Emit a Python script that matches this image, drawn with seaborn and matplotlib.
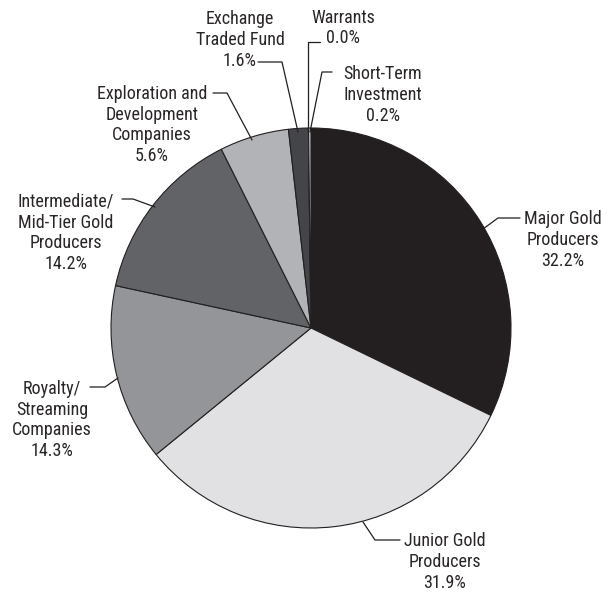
import numpy as np
import matplotlib
matplotlib.use("Agg")
import matplotlib.pyplot as plt
import seaborn as sns

# ---- data ------------------------------------------------------------
sectors = ["Major Gold\nProducers", "Junior Gold\nProducers", "Royalty/\nStreaming\nCompanies",
           "Intermediate/\nMid-Tier Gold\nProducers", "Exploration and\nDevelopment\nCompanies",
           "Exchange\nTraded Fund", "Warrants", "Short-Term\nInvestment"]
weights = [32.2, 31.9, 14.3, 14.2, 5.6, 1.6, 0.0, 0.2]
shades = ["#231f20", "#e1e1e3", "#939598", "#626366", "#b1b3b6", "#434549", "#c7c8ca", "#c7c8ca"]

# label layout in pixel coords (y down): text centre, leader polyline
W, H = 607, 594
label_pos = [(563, 240), (445, 562), (52, 420), (66, 233), (152, 125), (240, 40), (343, 28), (383, 95)]
leaders = [
    [(520, 218), (498, 218), (483, 229)],
    [(400, 540), (375, 540), (363, 522)],
    [(90, 387), (105, 387), (118, 378)],
    [(122, 199), (133, 199), (155, 207)],
    [(213, 93), (227, 93), (252, 140)],
    [(258, 62), (282, 62), (298, 132)],
    [(320, 42), (308, 42), (308, 132)],
    [(332, 72), (322, 72), (310, 132)],
]

sns.set_theme(style="white")
plt.rcParams['font.family'] = ['Roboto Condensed', 'Archivo Narrow', 'DejaVu Sans']

fig = plt.figure(figsize=(W / 100, H / 100), dpi=100)
ax = fig.add_axes([0, 0, 1, 1])

pal = sns.color_palette(shades)
ax.pie(weights, colors=pal, startangle=90, counterclock=False,
       center=(311, H - 328), radius=200,
       wedgeprops=dict(edgecolor="#231f20", linewidth=0.8))
ax.set_xlim(0, W)
ax.set_ylim(0, H)
ax.set_aspect("equal")
ax.axis("off")

for name, w, (tx, ty), pts in zip(sectors, weights, label_pos, leaders):
    ax.text(tx, H - ty, f"{name}\n{w:.1f}%", ha="center", va="center",
            fontsize=13, color="#2a2627", linespacing=1.2)
    xs = [p[0] for p in pts]
    ys = [H - p[1] for p in pts]
    ax.plot(xs, ys, color="#231f20", linewidth=0.9)

fig.savefig("out.png", dpi=100)
